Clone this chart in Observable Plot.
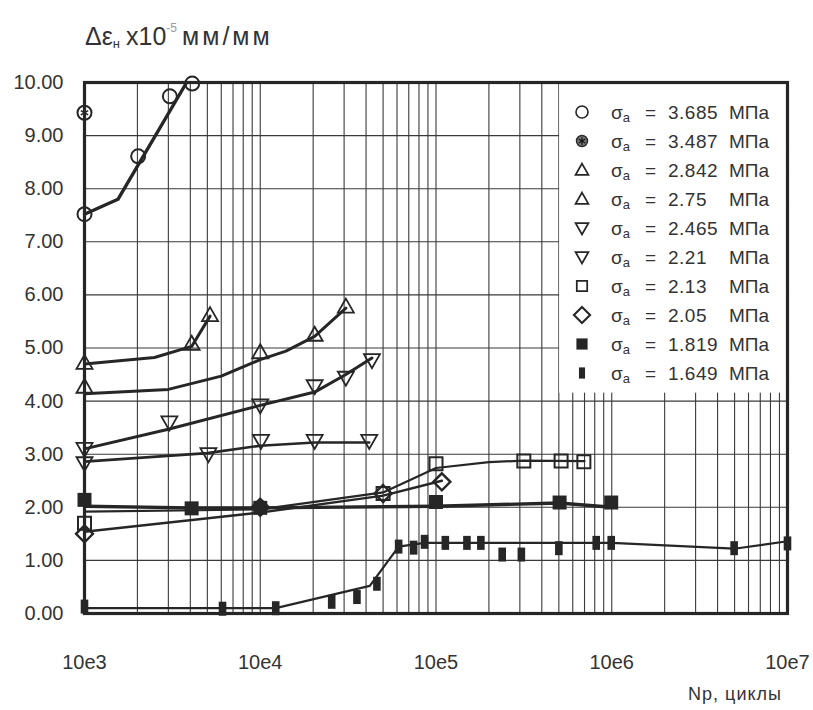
<!DOCTYPE html>
<html><head><meta charset="utf-8">
<script src="https://cdn.jsdelivr.net/npm/d3@7"></script>
<script src="https://cdn.jsdelivr.net/npm/@observablehq/plot@0.6"></script>
<style>
body{margin:0;background:#fff;}
#wrap{position:relative;width:813px;height:710px;}
</style></head><body><div id="wrap"></div>
<script>
// ---------- data (N cycles, Δε ×10^-5 mm/mm) ----------
const legendLabels = ["3.685","3.487","2.842","2.75","2.465","2.21","2.13","2.05","1.819","1.649"];
const xTickValues = [1e3, 1e4, 1e5, 1e6, 1e7];
const xTickLabels = ["10e3", "10e4", "10e5", "10e6", "10e7"];
const yTickValues = [0,1,2,3,4,5,6,7,8,9,10];

const s3685Pts  = [[1000,7.52],[2020,8.61],[3060,9.74],[4100,9.98]];
const s3685Line = [[1000,7.52],[1550,7.8],[3810,10]];
const s3487Pts  = [[1000,9.43]];
const s2842Pts  = [[1000,4.72],[4070,5.08],[5180,5.62]];
const s2842Line = [[1000,4.7],[2500,4.82],[4070,5.03],[5180,5.6]];
const s275Pts   = [[1000,4.27],[10000,4.92],[20400,5.25],[30700,5.78]];
const s275Line  = [[1000,4.14],[3000,4.22],[6000,4.47],[10000,4.78],[14000,4.94],[20400,5.22],[30700,5.75]];
const s2465Pts  = [[1000,3.1],[3040,3.6],[10000,3.92],[20400,4.28],[30700,4.44],[43200,4.77]];
const s2465Line = [[1000,3.1],[3000,3.47],[10000,3.92],[20400,4.17],[30700,4.5],[43200,4.81]];
const s221Pts   = [[1000,2.83],[5070,3.0],[10100,3.25],[20400,3.25],[41700,3.25]];
const s221Line  = [[1000,2.86],[5000,3.02],[10000,3.16],[20400,3.22],[41700,3.22]];
const s213Pts   = [[1000,1.7],[50000,2.26],[100000,2.82],[316000,2.87],[515000,2.87],[694000,2.86]];
const s213Line  = [[1000,1.92],[10000,1.96],[50000,2.28],[100000,2.74],[200000,2.85],[316000,2.88],[700000,2.87]];
const s205Pts   = [[1000,1.5],[10000,2.0],[50000,2.26],[108000,2.48]];
const s205Line  = [[1000,1.54],[10000,1.9],[50000,2.22],[108000,2.5]];
const s1819Pts  = [[1000,2.14],[4070,1.98],[10000,1.99],[100000,2.1],[505000,2.09],[993000,2.09]];
const s1819Line = [[1000,2.02],[4000,1.99],[10000,1.99],[100000,2.02],[500000,2.08],[1000000,2.0]];
const s1649Pts  = [[1000,0.13],[6100,0.09],[12250,0.1],[25500,0.22],[35500,0.31],[46100,0.56],[61300,1.26],[74600,1.24],[86100,1.35],[113000,1.33],[150000,1.33],[180000,1.33],[238000,1.11],[306000,1.11],[500000,1.23],[816000,1.33],[993000,1.33],[4970000,1.23],[10000000,1.32]];
const s1649Line = [[1000,0.1],[12250,0.1],[42000,0.52],[61300,1.26],[86000,1.33],[1000000,1.33],[4970000,1.22],[10000000,1.36]];

// ---------- symbols ----------
function polySym(p){return {draw(ctx){ctx.moveTo(p[0][0],p[0][1]);for(let i=1;i<p.length;i++)ctx.lineTo(p[i][0],p[i][1]);ctx.closePath();}};}
const triUp   = polySym([[0,-8],[8,6],[-8,6]]);
const triDown = polySym([[-8,-6],[8,-6],[0,8]]);
const sqOpen  = polySym([[-6.5,-6.5],[6.5,-6.5],[6.5,6.5],[-6.5,6.5]]);
const diamond = polySym([[0,-8.5],[8.5,0],[0,8.5],[-8.5,0]]);
const sqFill  = polySym([[-7,-7],[7,-7],[7,7],[-7,7]]);
const bar     = polySym([[-3.8,-7],[3.8,-7],[3.8,7],[-3.8,7]]);

const ink = "#262626";
const gridX = [];
for (let d = 3; d < 7; d++) for (let k = 1; k < 10; k++) gridX.push(k * Math.pow(10, d));
gridX.push(1e7);

const P = a => a.map(([x,y]) => ({x,y}));
const line = (d, w) => Plot.line(P(d), {x:"x", y:"y", stroke: ink, strokeWidth: w, strokeLinejoin:"round"});
const dots = (d, sym, fill, stroke, sw) => Plot.dot(P(d), {x:"x", y:"y", symbol: sym, r: 7, fill, stroke, strokeWidth: sw});

const plot = Plot.plot({
  width: 813, height: 710,
  marginLeft: 84, marginRight: 26, marginTop: 82, marginBottom: 97,
  style: {fontFamily: "'Liberation Sans', 'DejaVu Sans', sans-serif", fontSize: "20px", color: "#333", background: "#fff"},
  x: {type: "log", domain: [1e3, 1e7], ticks: xTickValues, tickFormat: (d) => xTickLabels[xTickValues.indexOf(d)], tickSize: 0, tickPadding: 41, label: null},
  y: {domain: [0, 10], ticks: yTickValues, tickFormat: d3.format(".2f"), tickSize: 0, tickPadding: 21, label: null},
  marks: [
    Plot.ruleX(gridX, {stroke: "#3a3a3a", strokeWidth: 1.1}),
    Plot.ruleY(yTickValues, {stroke: "#3a3a3a", strokeWidth: 1.1}),
    line(s3685Line, 3.4),
    line(s2842Line, 3),
    line(s275Line, 3),
    line(s2465Line, 3),
    line(s221Line, 2.6),
    line(s213Line, 2.2),
    line(s205Line, 2.4),
    line(s1819Line, 3.4),
    line(s1649Line, 2.2),
    dots(s3685Pts, "circle", "none", ink, 2),
    dots(s3487Pts, "circle", "none", ink, 2),
    Plot.dot(P(s3487Pts), {x:"x", y:"y", symbol:"asterisk", r:4, stroke: ink, strokeWidth: 1.6}),
    dots(s2842Pts, triUp, "none", ink, 1.8),
    dots(s275Pts, triUp, "none", ink, 1.8),
    dots(s2465Pts, triDown, "none", ink, 1.8),
    dots(s221Pts, triDown, "none", ink, 1.8),
    dots(s1819Pts, sqFill, ink, "none", 0),
    dots(s213Pts, sqOpen, "none", ink, 2),
    dots(s205Pts, diamond, "none", ink, 2.4),
    dots(s1649Pts, bar, ink, "none", 0),
    Plot.frame({stroke: ink, strokeWidth: 3.2})
  ]
});
document.getElementById("wrap").appendChild(plot);

// ---------- legend, title, axis label ----------
const svg = d3.select(plot);
const xs = plot.scale("x"), ys = plot.scale("y");
const lg = svg.insert("g", '[aria-label="frame"]').attr("text-anchor", "start");
const bx = xs.apply(5e5) + 0.8;
lg.append("rect").attr("x", bx).attr("y", ys.apply(10)).attr("width", xs.apply(1e7) - bx).attr("height", ys.apply(4.15) - ys.apply(10)).attr("fill", "#fff");
const legSyms = [
  {t:"circle"}, {t:"star"}, {t:triUp}, {t:triUp}, {t:triDown}, {t:triDown}, {t:sqOpen}, {t:diamond}, {t:sqFill, f:true}, {t:bar, f:true}
];
const font = "'Liberation Sans', 'DejaVu Sans', sans-serif";
legendLabels.forEach((lab, i) => {
  const y = 112 + i * 29;
  const s = legSyms[i];
  const g = lg.append("g").attr("transform", `translate(582,${y})`);
  if (s.t === "circle") {
    g.append("circle").attr("r", 6).attr("fill", "none").attr("stroke", ink).attr("stroke-width", 1.6);
  } else if (s.t === "star") {
    g.append("circle").attr("r", 5.5).attr("fill", "#777").attr("stroke", ink).attr("stroke-width", 1.4);
    g.append("path").attr("d", d3.symbol(d3.symbolAsterisk, 40)()).attr("stroke", "#111").attr("stroke-width", 1.2);
  } else {
    const sc = (s.t === diamond) ? 0.95 : 0.8;
    g.append("path").attr("d", d3.symbol(s.t)()).attr("transform", `scale(${sc})`)
      .attr("fill", s.f ? ink : "none").attr("stroke", s.f ? "none" : ink).attr("stroke-width", 2.2);
  }
  const t = lg.append("text").attr("text-anchor", "start").attr("y", y + 7).attr("font-family", font).attr("font-size", 19).attr("fill", "#333");
  t.append("tspan").attr("x", 611).text("σ");
  t.append("tspan").attr("font-size", 13).attr("dy", 3).text("a");
  lg.append("text").attr("text-anchor", "start").attr("x", 645).attr("y", y + 7).attr("font-family", font).attr("font-size", 19).attr("fill", "#333").text("=");
  lg.append("text").attr("text-anchor", "start").attr("x", 668).attr("y", y + 7).attr("font-family", font).attr("font-size", 19).attr("fill", "#333").attr("letter-spacing", 0.5).text(lab);
  lg.append("text").attr("text-anchor", "start").attr("x", 729).attr("y", y + 7).attr("font-family", font).attr("font-size", 19).attr("fill", "#333").text("МПа");
});

const title = svg.append("text").attr("text-anchor", "start").attr("x", 85).attr("y", 45).attr("font-family", font).attr("font-size", 25).attr("fill", "#333");
title.append("tspan").text("Δε");
title.append("tspan").attr("font-size", 13).attr("dy", 3).text("н");
title.append("tspan").attr("dy", -3).attr("dx", 6).text("x10");
title.append("tspan").attr("font-size", 12).attr("dy", -13).attr("fill", "#999").text("-5");
title.append("tspan").attr("dy", 13).attr("dx", 5).attr("letter-spacing", 3).text("мм/мм");

svg.append("text").attr("x", 782).attr("y", 700).attr("text-anchor", "end").attr("font-family", font).attr("font-size", 18).attr("letter-spacing", 1).attr("fill", "#333").text("Np, циклы");
</script></body></html>
